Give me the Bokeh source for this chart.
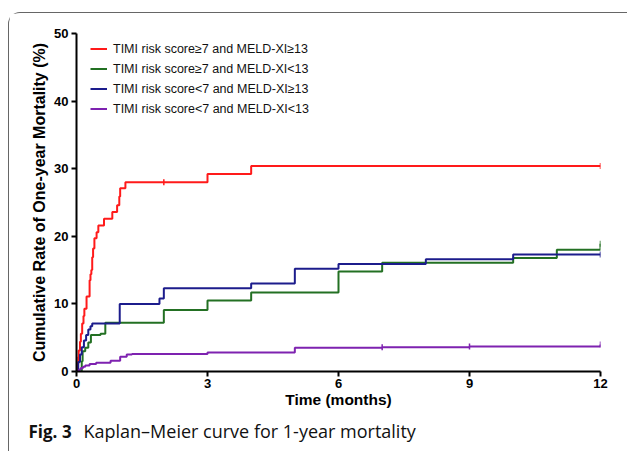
import math
from bokeh.plotting import figure
from bokeh.layouts import column
from bokeh.models import Range1d, FixedTicker, Legend, LegendItem, Div
from bokeh.embed import file_html
from bokeh.resources import INLINE

# ---------------- data ----------------
series_names = [
    "TIMI risk score\u22657 and MELD-XI\u226513",
    "TIMI risk score\u22657 and MELD-XI<13",
    "TIMI risk score<7 and MELD-XI\u226513",
    "TIMI risk score<7 and MELD-XI<13",
]

red_t = [0, 0.02, 0.04, 0.05, 0.08, 0.10, 0.13, 0.16, 0.18, 0.23, 0.30, 0.32, 0.34, 0.36,
         0.38, 0.41, 0.46, 0.50, 0.63, 0.82, 0.93, 0.98, 1.0, 1.12, 3.0, 4.0, 12]
red_v = [0, 1.1, 2.2, 3.1, 4.4, 5.6, 7.1, 8.2, 9.3, 11.1, 13.5, 14.4, 15.0, 16.9,
         18.2, 19.7, 20.6, 21.6, 22.6, 23.6, 24.6, 25.9, 27.1, 28.0, 29.2, 30.4, 30.4]

green_t = [0, 0.12, 0.14, 0.20, 0.27, 0.33, 0.55, 0.66, 2.0, 3.0, 4.0, 6.0, 7.0, 10.0, 11.0, 12]
green_v = [0, 1.5, 3.0, 3.5, 4.3, 5.4, 5.6, 7.2, 9.1, 10.5, 11.7, 14.8, 16.1, 16.8, 18.0, 18.9]

blue_t = [0, 0.04, 0.08, 0.12, 0.17, 0.22, 0.27, 0.32, 0.36, 0.99, 1.9, 2.0, 4.0, 5.0, 6.0, 8.0, 10.0, 12]
blue_v = [0, 1.4, 2.5, 3.6, 4.6, 5.4, 6.2, 6.7, 7.1, 10.0, 10.8, 12.3, 13.0, 15.2, 15.9, 16.6, 17.3, 17.3]

purple_t = [0, 0.06, 0.10, 0.15, 0.20, 0.30, 0.45, 0.78, 1.0, 1.15, 1.27, 3.0, 5.0, 7.0, 9.0, 12]
purple_v = [0, 0.3, 0.5, 0.7, 0.9, 1.1, 1.3, 1.6, 2.2, 2.5, 2.6, 2.8, 3.5, 3.6, 3.7, 4.0]

# censored observations (tick marks)
red_cens_t, red_cens_v = [2.0, 12], [28.0, 30.4]
green_cens_t, green_cens_v = [12], [18.9]
blue_cens_t, blue_cens_v = [12], [17.3]
purple_cens_t, purple_cens_v = [7.0, 9.0, 12], [3.6, 3.7, 4.0]

x_ticks = [0, 3, 6, 9, 12]
y_ticks = [0, 10, 20, 30, 40, 50]

caption_bold = "Fig. 3"
caption_text = "Kaplan\u2013Meier curve for 1-year mortality"

colors = ["#FF1A1A", "#237023", "#1C1C8C", "#7E22B0"]

# ---------------- main figure ----------------
p = figure(width=603, height=404, output_backend="svg", toolbar_location=None,
           x_range=Range1d(0, 12), y_range=Range1d(0, 50),
           min_border_left=67, min_border_right=12, min_border_top=20, min_border_bottom=46)
p.outline_line_color = None
p.xgrid.visible = False
p.ygrid.visible = False
p.background_fill_color = "white"
p.border_fill_color = "white"

for ax in (p.xaxis[0], p.yaxis[0]):
    ax.axis_line_width = 2
    ax.axis_line_color = "black"
    ax.major_tick_line_width = 2
    ax.major_tick_line_color = "black"
    ax.major_tick_out = 5
    ax.major_tick_in = 0
    ax.minor_tick_line_color = None
    ax.major_label_text_font = "Liberation Sans"
    ax.major_label_text_font_style = "bold"
    ax.major_label_text_font_size = "13px"
    ax.major_label_text_color = "black"
    ax.axis_label_text_font = "Liberation Sans"
    ax.axis_label_text_font_style = "bold"
    ax.axis_label_text_color = "black"

p.xaxis.axis_label_text_font_size = "15.5px"
p.yaxis.axis_label_text_font_size = "16px"
p.xaxis.ticker = FixedTicker(ticks=x_ticks)
p.yaxis.ticker = FixedTicker(ticks=y_ticks)
p.xaxis.axis_label = "Time (months)"
p.yaxis.axis_label = "Cumulative Rate of One-year Mortality (%)"
p.xaxis.major_label_standoff = 2
p.yaxis.major_label_standoff = 3
p.xaxis.axis_label_standoff = 0
p.yaxis.axis_label_standoff = 3

all_t = [red_t, green_t, blue_t, purple_t]
all_v = [red_v, green_v, blue_v, purple_v]
all_ct = [red_cens_t, green_cens_t, blue_cens_t, purple_cens_t]
all_cv = [red_cens_v, green_cens_v, blue_cens_v, purple_cens_v]

items = []
for name, t, v, ct, cv, c in zip(series_names, all_t, all_v, all_ct, all_cv, colors):
    r = p.step(t, v, mode="after", line_color=c, line_width=2)
    m = p.scatter(ct, cv, marker="dash", angle=math.pi / 2, size=6,
                  line_color=c, line_width=1.5)
    items.append(LegendItem(label=name, renderers=[r, m]))

legend = Legend(items=items, location=(14, 254))
legend.background_fill_alpha = 0
legend.border_line_color = None
legend.label_text_font = "Liberation Sans"
legend.label_text_font_size = "12.5px"
legend.label_text_color = "#111111"
legend.glyph_width = 17
legend.glyph_height = 17
legend.label_height = 17
legend.label_standoff = 6
legend.spacing = 3
legend.padding = 0
legend.margin = 0
p.add_layout(legend, "center")

# ---------------- caption ----------------
cap = Div(
    text=(f'<span style="font-weight:700;font-size:17px;display:inline-block;width:55px;">{caption_bold}</span>'
          f'<span style="font-weight:400;font-size:18px;">{caption_text}</span>'),
    width=613, height=33,
    styles={"font-family": "'Open Sans', sans-serif",
            "line-height": "18px", "color": "#111111",
            "padding-top": "0px", "padding-left": "14.5px", "white-space": "nowrap",
            "box-sizing": "border-box"},
)

layout = column(p, cap, styles={
    "margin-left": "8px", "margin-top": "12px",
    "border-top": "1.5px solid #666666", "border-left": "1.5px solid #666666",
    "border-top-left-radius": "12px",
})

open("out.html", "w").write(file_html(layout, INLINE))
